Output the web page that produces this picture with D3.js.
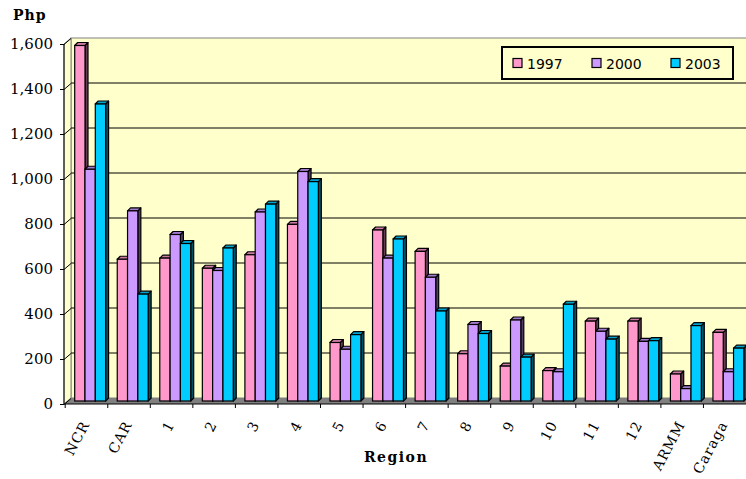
<!DOCTYPE html>
<html>
<head>
<meta charset="utf-8">
<script src="https://cdn.jsdelivr.net/npm/d3@7"></script>
<style>
  body { margin: 0; background: #fff; }
  svg { display: block; }
</style>
</head>
<body>
<div id="canvas"></div>
<script>
  const regions = ['NCR', 'CAR', '1', '2', '3', '4', '5', '6', '7', '8', '9', '10', '11', '12', 'ARMM', 'Caraga'];
  const years = ['1997', '2000', '2003'];
  const v1997 = [1580, 630, 635, 590, 650, 785, 260, 760, 665, 210, 155, 135, 355, 355, 120, 305];
  const v2000 = [1030, 845, 740, 580, 840, 1020, 230, 635, 550, 340, 360, 130, 310, 265, 55, 130];
  const v2003 = [1320, 475, 700, 680, 875, 975, 295, 720, 400, 300, 195, 430, 275, 268, 335, 235];
  const yTicks = [0, 200, 400, 600, 800, 1000, 1200, 1400, 1600];

  const series = [v1997, v2000, v2003];
  const colors = ['#FF99CC', '#CC99FF', '#00CCFF'];

  const width = 746;
  const height = 479;
  const depth = 6; // 3D wall depth
  const barDepth = 3;

  const svg = d3.select('#canvas')
    .append('svg')
    .attr('width', width)
    .attr('height', height);

  const x = d3.scaleBand()
    .domain(regions)
    .range([65.2, 746])
    .paddingInner(0);

  // front axis scale
  const y = d3.scaleLinear()
    .domain([0, 1600])
    .range([404, 44]);

  const x0 = 64;
  const wallLeft = x0 + 7;

  // back wall
  svg.append('rect')
    .attr('x', wallLeft)
    .attr('y', y(1600) - depth)
    .attr('width', width - wallLeft + 10)
    .attr('height', y(0) - y(1600))
    .attr('fill', '#FFFFCC')
    .attr('stroke', '#808080');

  // side wall
  svg.append('polygon')
    .attr('points', [[x0, y(0)], [x0, y(1600)], [wallLeft, y(1600) - depth], [wallLeft, y(0) - depth]].join(' '))
    .attr('fill', '#FFFFCC')
    .attr('stroke', '#808080');

  // gridlines on back wall
  svg.selectAll('line.grid')
    .data(yTicks.filter(d => d > 0 && d < 1600))
    .enter()
    .append('line')
    .attr('class', 'grid')
    .attr('x1', wallLeft)
    .attr('x2', width + 5)
    .attr('y1', d => y(d) - depth)
    .attr('y2', d => y(d) - depth)
    .attr('stroke', '#000')
    .attr('stroke-width', 1);

  // floor
  svg.append('polygon')
    .attr('points', [[x0, y(0)], [wallLeft, y(0) - depth], [width + 10, y(0) - depth], [width + 10, y(0)]].join(' '))
    .attr('fill', '#808080');

  // bars
  const barW = x.bandwidth() * 0.242;
  const barOff = 9.5;

  const sideShade = (c) => {
    const k = d3.rgb(c);
    return d3.rgb(k.r * 0.4, k.g * 0.4, k.b * 0.4).toString();
  };
  const topShade = (c) => {
    const k = d3.rgb(c);
    return d3.rgb(k.r * 0.8, k.g * 0.8, k.b * 0.8).toString();
  };

  const bars = [];
  regions.forEach((r, ri) => {
    series.forEach((s, si) => {
      bars.push({ region: r, si: si, value: s[ri] });
    });
  });

  const g = svg.selectAll('g.bar')
    .data(bars)
    .enter()
    .append('g')
    .attr('class', 'bar');

  const yb = y(0) - 3;
  const yt = (d) => y(d.value) - 3;
  const bx = (d) => x(d.region) + barOff + d.si * barW;

  g.append('polygon')
    .attr('points', d => {
      const x1 = bx(d) + barW;
      return [[x1, yb], [x1 + barDepth, yb - barDepth], [x1 + barDepth, yt(d) - barDepth], [x1, yt(d)]].join(' ');
    })
    .attr('fill', d => sideShade(colors[d.si]))
    .attr('stroke', '#000')
    .attr('stroke-width', 1.2)
    .attr('stroke-linejoin', 'round');

  g.append('polygon')
    .attr('points', d => {
      const x1 = bx(d) + barW;
      return [[bx(d), yt(d)], [bx(d) + barDepth, yt(d) - barDepth], [x1 + barDepth, yt(d) - barDepth], [x1, yt(d)]].join(' ');
    })
    .attr('fill', d => topShade(colors[d.si]))
    .attr('stroke', '#000')
    .attr('stroke-width', 1.2)
    .attr('stroke-linejoin', 'round');

  g.append('rect')
    .attr('x', d => bx(d))
    .attr('y', d => yt(d))
    .attr('width', barW)
    .attr('height', d => yb - yt(d))
    .attr('fill', d => colors[d.si])
    .attr('stroke', '#000')
    .attr('stroke-width', 1.2);

  // y axis
  const yAxis = svg.append('g')
    .attr('transform', `translate(${x0},0)`)
    .call(d3.axisLeft(y).tickValues(yTicks).tickFormat(d3.format(',')).tickSize(4).tickPadding(7));
  yAxis.select('.domain').attr('stroke', '#000').attr('d', `M0,${y(1600)}V${y(0)}`);
  yAxis.selectAll('.tick line').attr('stroke', '#000');
  yAxis.selectAll('.tick text')
    .style('font-family', '"DejaVu Serif", serif')
    .style('font-size', '15px')
    .attr('fill', '#000');
  yAxis.selectAll('.tick')
    .append('line')
    .attr('x1', 0).attr('y1', 0)
    .attr('x2', 7).attr('y2', -depth)
    .attr('stroke', '#000');

  // x axis
  svg.append('line')
    .attr('x1', x0).attr('x2', width + 5)
    .attr('y1', y(0)).attr('y2', y(0))
    .attr('stroke', '#000');

  svg.selectAll('line.xtick')
    .data(regions)
    .enter()
    .append('line')
    .attr('class', 'xtick')
    .attr('x1', d => x(d)).attr('x2', d => x(d))
    .attr('y1', y(0)).attr('y2', y(0) + 4)
    .attr('stroke', '#000');

  svg.selectAll('text.xlab')
    .data(regions)
    .enter()
    .append('text')
    .attr('class', 'xlab')
    .attr('text-anchor', 'end')
    .attr('dy', '0.35em')
    .attr('transform', d => `translate(${x(d) + x.bandwidth() / 2 - 1},422) rotate(-62)`)
    .style('font-family', '"DejaVu Serif", serif')
    .style('font-size', '14px')
    .style('letter-spacing', '1px')
    .text(d => d);

  // axis titles
  svg.append('text')
    .attr('x', 13).attr('y', 20)
    .style('font-family', '"DejaVu Serif", serif')
    .style('font-size', '14px')
    .style('font-weight', 'bold')
    .style('letter-spacing', '1px')
    .text('Php');

  svg.append('text')
    .attr('x', 396).attr('y', 462)
    .attr('text-anchor', 'middle')
    .style('font-family', '"DejaVu Serif", serif')
    .style('font-size', '14px')
    .style('font-weight', 'bold')
    .style('letter-spacing', '1.5px')
    .text('Region');

  // Legend
  const legend = svg.append('g');
  legend.append('rect')
    .attr('x', 502).attr('y', 47)
    .attr('width', 231).attr('height', 32)
    .attr('fill', '#FFFFCC')
    .attr('stroke', '#000')
    .attr('stroke-width', 2);

  const legendX = [513, 592, 671];
  years.forEach((yr, i) => {
    legend.append('rect')
      .attr('x', legendX[i]).attr('y', 58.5)
      .attr('width', 9).attr('height', 9)
      .attr('fill', colors[i])
      .attr('stroke', '#000')
      .attr('stroke-width', 1.2);
    legend.append('text')
      .attr('x', legendX[i] + 14).attr('y', 68.5)
      .style('font-family', '"DejaVu Sans", sans-serif')
      .style('font-size', '14px')
      .text(yr);
  });
</script>
</body>
</html>
